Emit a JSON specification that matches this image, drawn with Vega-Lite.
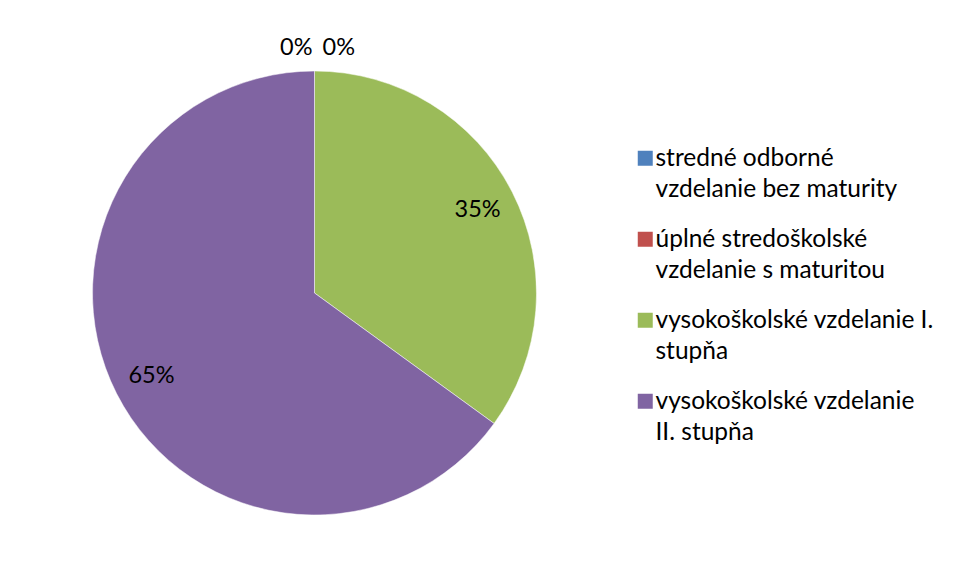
{
  "$schema": "https://vega.github.io/schema/vega-lite/v6.json",
  "width": 619,
  "height": 576,
  "autosize": "pad",
  "padding": {"left": 5, "top": 5, "right": 0, "bottom": 0},
  "background": "white",
  "data": {
    "values": [
      {"k": 1, "category": "stredné odborné vzdelanie bez maturity", "value": 0},
      {"k": 2, "category": "úplné stredoškolské vzdelanie s maturitou", "value": 0},
      {"k": 3, "category": "vysokoškolské vzdelanie I. stupňa", "value": 0.35},
      {"k": 4, "category": "vysokoškolské vzdelanie II. stupňa", "value": 0.65}
    ]
  },
  "encoding": {
    "theta": {"field": "value", "type": "quantitative", "stack": true},
    "order": {"field": "k", "type": "quantitative"},
    "color": {
      "field": "category",
      "type": "nominal",
      "scale": {
        "domain": ["stredné odborné vzdelanie bez maturity", "úplné stredoškolské vzdelanie s maturitou", "vysokoškolské vzdelanie I. stupňa", "vysokoškolské vzdelanie II. stupňa"],
        "range": ["#4F81BD", "#C0504D", "#9BBB59", "#8064A2"]
      },
      "legend": {
        "title": null,
        "orient": "none",
        "legendX": 628,
        "legendY": 141,
        "padding": 0,
        "symbolType": "square",
        "symbolSize": 225,
        "symbolStrokeWidth": 0,
        "labelFont": "Lato",
        "labelFontSize": 24.5,
        "labelColor": "#000000",
        "labelOffset": -2,
        "labelLimit": 400,
        "labelBaseline": "top",
        "rowPadding": 25,
        "labelExpr": "datum.label == 'stredné odborné vzdelanie bez maturity' ? ['stredné odborné', 'vzdelanie bez maturity'] : datum.label == 'úplné stredoškolské vzdelanie s maturitou' ? ['úplné stredoškolské', 'vzdelanie s maturitou'] : datum.label == 'vysokoškolské vzdelanie I. stupňa' ? ['vysokoškolské vzdelanie I.', 'stupňa'] : ['vysokoškolské vzdelanie', 'II. stupňa']"
      }
    }
  },
  "layer": [
    {"mark": {"type": "arc", "outerRadius": 222, "stroke": "white", "strokeWidth": 0.5}},
    {
      "transform": [{"filter": "datum.k == 1"}],
      "mark": {"type": "text", "radius": 245, "align": "right", "dx": -2, "font": "Lato", "fontSize": 23.5},
      "encoding": {"text": {"field": "value", "type": "quantitative", "format": ".0%"}, "color": {"value": "black"}}
    },
    {
      "transform": [{"filter": "datum.k == 2"}],
      "mark": {"type": "text", "radius": 245, "align": "left", "dx": 8, "font": "Lato", "fontSize": 23.5},
      "encoding": {"text": {"field": "value", "type": "quantitative", "format": ".0%"}, "color": {"value": "black"}}
    },
    {
      "transform": [{"filter": "datum.k >= 3"}],
      "mark": {"type": "text", "radius": 183, "font": "Lato", "fontSize": 23.5},
      "encoding": {"text": {"field": "value", "type": "quantitative", "format": ".0%"}, "color": {"value": "black"}}
    }
  ],
  "config": {
    "view": {"stroke": null},
    "style": {"guide-label": {"lineHeight": 31, "dy": -11}}
  }
}
